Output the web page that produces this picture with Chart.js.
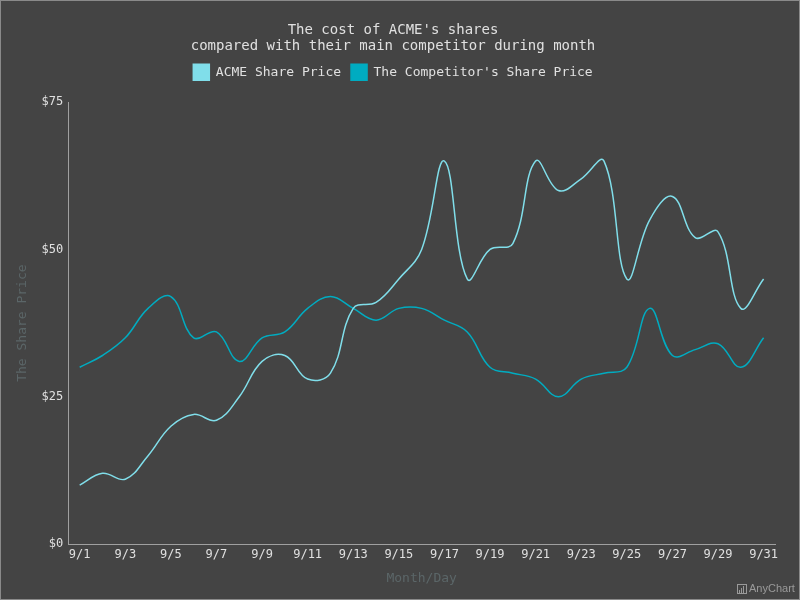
<!DOCTYPE html>
<html>
<head>
<meta charset="utf-8">
<script src="https://cdn.jsdelivr.net/npm/chart.js@4"></script>
<style>
  html, body { margin: 0; padding: 0; background: #444444; }
  .wrap { width: 798px; height: 598px; border: 1px solid #8a8a8a; background: #444444; }
</style>
</head>
<body>
<div class="wrap"><canvas id="myChart" width="798" height="598"></canvas></div>
<script>
// Data
const days = ['9/1','9/2','9/3','9/4','9/5','9/6','9/7','9/8','9/9','9/10','9/11','9/12','9/13','9/14','9/15','9/16',
  '9/17','9/18','9/19','9/20','9/21','9/22','9/23','9/24','9/25','9/26','9/27','9/28','9/29','9/30','9/31'];
const acmePrice = [10, 12, 11, 15, 20, 22, 21, 25, 31, 32, 28, 29, 40, 41, 45, 50,
  65, 45, 50, 51, 65, 60, 62, 65, 45, 55, 59, 52, 53, 40, 45];
const competitorPrice = [30, 32, 35, 40, 42, 35, 36, 31, 35, 36, 40, 42, 40, 38, 40, 40,
  38, 36, 30, 29, 28, 25, 28, 29, 30, 40, 32, 33, 34, 30, 35];
const yTicks = [0, 25, 50, 75];

const mono = "'DejaVu Sans Mono', monospace";
const textColor = '#e0e0e0';
const titleColor = '#5b6668';

// extra room under the legend
const legendGap = {
  id: 'legendGap',
  beforeInit(chart) {
    const fit = chart.legend.fit;
    chart.legend.fit = function () {
      fit.bind(chart.legend)();
      this.height += 12;
    };
  }
};

// small watermark bottom right
const credit = {
  id: 'credit',
  afterDraw(chart) {
    const c = chart.ctx;
    c.save();
    c.strokeStyle = '#9a9a9a';
    c.lineWidth = 1;
    c.strokeRect(736.5, 583.5, 9, 9);
    c.fillStyle = '#9a9a9a';
    c.fillRect(738, 589, 1, 3);
    c.fillRect(740, 587, 1, 5);
    c.fillRect(742, 585, 1, 7);
    c.font = "11px 'Liberation Sans Narrow', 'Liberation Sans', sans-serif";
    c.textBaseline = 'middle';
    c.fillText('AnyChart', 748, 588);
    c.restore();
  }
};

const ctx = document.getElementById('myChart').getContext('2d');
const myChart = new Chart(ctx, {
  type: 'line',
  data: {
    labels: days,
    datasets: [
      {
        label: 'ACME Share Price',
        data: acmePrice,
        borderColor: '#80deea',
        backgroundColor: '#80deea',
        borderWidth: 1.5,
        pointRadius: 0,
        tension: 0.4,
        fill: false
      },
      {
        label: "The Competitor's Share Price",
        data: competitorPrice,
        borderColor: '#00acc1',
        backgroundColor: '#00acc1',
        borderWidth: 1.5,
        pointRadius: 0,
        tension: 0.4,
        fill: false
      }
    ]
  },
  options: {
    responsive: false,
    animation: false,
    layout: { padding: { left: 10, right: 24, top: 12, bottom: 9 } },
    plugins: {
      title: {
        display: true,
        text: ["The cost of ACME's shares", 'compared with their main competitor during month'],
        color: textColor,
        font: { family: mono, size: 14, weight: 'normal', lineHeight: 1.15 },
        padding: { top: 9, bottom: 0 }
      },
      legend: {
        labels: {
          color: textColor,
          font: { family: mono, size: 13 },
          boxWidth: 16,
          boxHeight: 16,
          padding: 10
        }
      },
      tooltip: { enabled: false }
    },
    scales: {
      x: {
        offset: true,
        grid: { display: false, drawTicks: false },
        border: { color: '#a0a0a0' },
        ticks: {
          color: textColor,
          font: { family: mono, size: 12 },
          maxRotation: 0,
          autoSkip: false,
          padding: 4,
          callback: function (value, index) {
            return index % 2 === 0 ? days[index] : '';
          }
        },
        title: {
          display: true,
          text: 'Month/Day',
          color: titleColor,
          font: { family: mono, size: 13 },
          padding: { top: 4 }
        }
      },
      y: {
        min: 0,
        max: 75,
        grid: { display: false, drawTicks: false },
        border: { color: '#a0a0a0' },
        afterBuildTicks: function (axis) {
          axis.ticks = yTicks.map(v => ({ value: v }));
        },
        ticks: {
          color: textColor,
          font: { family: mono, size: 12 },
          padding: 5,
          callback: function (value) {
            return '$' + value;
          }
        },
        title: {
          display: true,
          text: 'The Share Price',
          color: titleColor,
          font: { family: mono, size: 13 },
          padding: { bottom: 6 }
        }
      }
    }
  },
  plugins: [legendGap, credit]
});
</script>
</body>
</html>
